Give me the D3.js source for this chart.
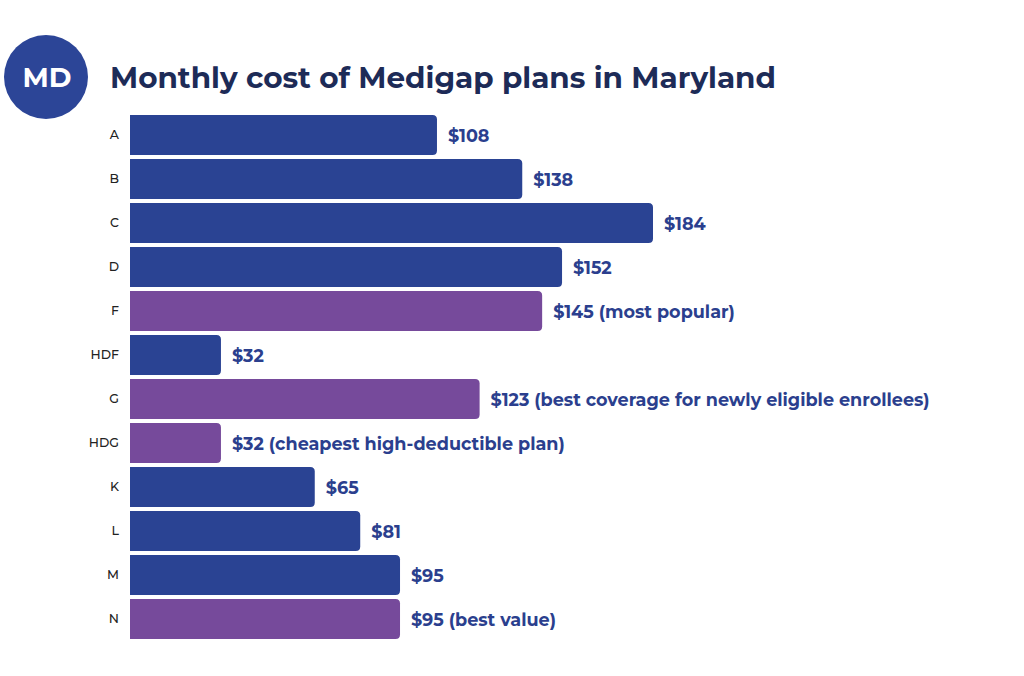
<!DOCTYPE html>
<html><head><meta charset="utf-8">
<script src="https://cdn.jsdelivr.net/npm/d3@7"></script>
<style>body{margin:0;background:#fff}svg{display:block}</style>
</head><body>
<script>
const categories = ["A","B","C","D","F","HDF","G","HDG","K","L","M","N"];
const values = [108,138,184,152,145,32,123,32,65,81,95,95];
const notes = ["","","","","(most popular)","","(best coverage for newly eligible enrollees)","(cheapest high-deductible plan)","","","","(best value)"];
const highlighted = ["F","G","HDG","N"];

const W=1024,H=676;
const svg=d3.select("body").append("svg").attr("width",W).attr("height",H);
const font="Montserrat, 'DejaVu Sans', sans-serif";

svg.append("circle").attr("cx",46).attr("cy",77).attr("r",42).attr("fill","#2c4597");
svg.append("text").attr("x",47).attr("y",87).attr("text-anchor","middle")
  .attr("font-family",font).attr("font-weight",700).attr("font-size",27.5).attr("fill","#fff").text("MD");
svg.append("text").attr("x",110).attr("y",88)
  .attr("font-family",font).attr("font-weight",700).attr("font-size",29).attr("fill","#1d2b57")
  .attr("textLength",666).attr("lengthAdjust","spacingAndGlyphs")
  .text("Monthly cost of Medigap plans in Maryland");

const x=d3.scaleLinear().domain([0,184]).range([130,653]);
const y=d3.scaleBand().domain(categories).range([115,639]).paddingInner(0.09).paddingOuter(0);

const g=svg.append("g");
const r=4.5;
categories.forEach((c,i)=>{
  const x0=x(0),x1=x(values[i]),y0=y(c),h=y.bandwidth();
  const p=`M${x0},${y0}H${x1-r}Q${x1},${y0} ${x1},${y0+r}V${y0+h-r}Q${x1},${y0+h} ${x1-r},${y0+h}H${x0}Z`;
  g.append("path").attr("d",p).attr("fill",highlighted.includes(c)?"#764a9b":"#2a4393");
  g.append("text").attr("x",x1+11).attr("y",y0+h/2+1).attr("dy","0.36em")
    .attr("font-family",font).attr("font-weight",700).attr("font-size",17.6).attr("fill","#2b3f8e")
    .text("$"+values[i]+(notes[i]?" "+notes[i]:""));
});
const yAxis=d3.axisLeft(y).tickSize(0).tickPadding(11);
const ax=svg.append("g").attr("transform","translate(130,0)").call(yAxis);
ax.select(".domain").remove();
ax.selectAll("text").attr("font-family",font).attr("font-size",12.5).attr("font-weight",500).attr("fill","#222");
</script>
</body></html>
